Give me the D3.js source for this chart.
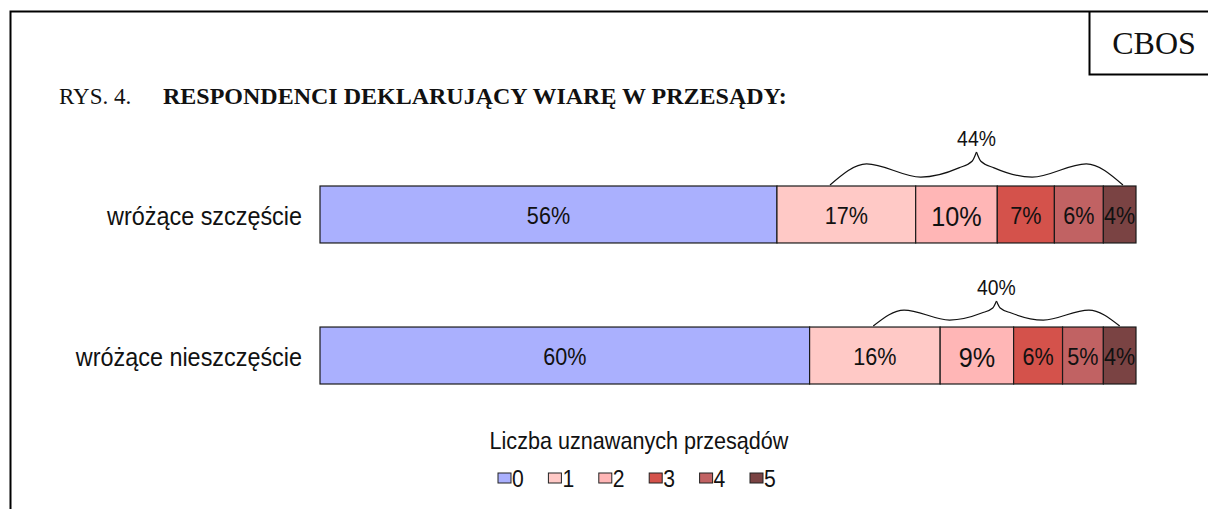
<!DOCTYPE html>
<html>
<head>
<meta charset="utf-8">
<script src="https://cdn.jsdelivr.net/npm/d3@7"></script>
<style>
  body { margin: 0; background: #fff; }
  text { font-family: Arial, "Liberation Sans", sans-serif; fill: #111; }
  .serif { font-family: "Times New Roman", "Liberation Serif", serif; }
</style>
</head>
<body>
<div id="chart"></div>
<script>
// data
var categories = ["wróżące szczęście", "wróżące nieszczęście"];
var groups = ["0", "1", "2", "3", "4", "5"];
var szczescie = [56, 17, 10, 7, 6, 4];
var nieszczescie = [60, 16, 9, 6, 5, 4];
var colors = ["#aab0fe", "#ffc9c6", "#ffb6b6", "#d4524b", "#c16263", "#7a4343"];
// brace annotation: total of the "at least one" groups, and where the brace starts / ends (in %)
var braceTotals = ["44%", "40%"];
var braceFrom = [62.5, 67.8];
var braceTo = [98.4, 98.0];

var series = [szczescie, nieszczescie];
// label size per group (the "2" column is printed larger in the original)
var labelSize = [24, 24, 28, 24, 24, 24];
var braceHeight = [33, 25];
var sx = 0.9; // the original sans text is a bit narrow

function at(px, py) { return "translate(" + px + "," + py + ") scale(" + sx + ",1)"; }

var W = 1208, H = 509;
var svg = d3.select("#chart").append("svg")
  .attr("width", W).attr("height", H);

// frame + CBOS box
svg.append("path")
  .attr("d", "M10.5,509 V11.5 H1208")
  .attr("fill", "none").attr("stroke", "#000").attr("stroke-width", 2);
svg.append("path")
  .attr("d", "M1089.5,11.5 V74.5 H1208")
  .attr("fill", "none").attr("stroke", "#000").attr("stroke-width", 2);
svg.append("text").attr("class", "serif")
  .attr("x", 1154).attr("y", 54).attr("text-anchor", "middle")
  .style("font-size", "32px").text("CBOS");

// title
svg.append("text").attr("class", "serif")
  .attr("x", 59).attr("y", 104).style("font-size", "23px").text("RYS. 4.");
svg.append("text").attr("class", "serif")
  .attr("x", 163).attr("y", 104).style("font-size", "24px").style("font-weight", "bold")
  .text("RESPONDENCI DEKLARUJĄCY WIARĘ W PRZESĄDY:");

// scales
var x = d3.scaleLinear().domain([0, 100]).range([320, 1136]);
var y = d3.scaleBand().domain(categories).range([186, 384]).paddingInner(0.596).paddingOuter(0);

// stacked data
var rows = categories.map(function(c, i) {
  var acc = 0;
  return series[i].map(function(v, j) {
    var seg = {cat: c, group: j, value: v, x0: acc, x1: acc + v, color: colors[j]};
    acc += v;
    return seg;
  });
});

var g = svg.append("g");
rows.forEach(function(row) {
  var rg = g.append("g");
  rg.selectAll("rect")
    .data(row)
    .enter()
    .append("rect")
      .attr("x", function(d) { return x(d.x0); })
      .attr("y", function(d) { return y(d.cat); })
      .attr("width", function(d) { return x(d.x1) - x(d.x0); })
      .attr("height", y.bandwidth())
      .attr("fill", function(d) { return d.color; })
      .attr("stroke", "#1a1a1a")
      .attr("stroke-width", 1.2);
  rg.selectAll("text")
    .data(row)
    .enter()
    .append("text")
      .attr("transform", function(d) {
        return at((x(d.x0) + x(d.x1)) / 2, y(d.cat) + y.bandwidth() / 2);
      })
      .attr("dy", "0.4em")
      .attr("text-anchor", "middle")
      .style("font-size", function(d) { return labelSize[d.group] + "px"; })
      .text(function(d) { return d.value + "%"; });
});

// category labels
svg.selectAll(".cat")
  .data(categories)
  .enter()
  .append("text")
    .attr("class", "cat")
    .attr("transform", function(d) { return at(302, y(d) + y.bandwidth() / 2); })
    .attr("dy", "0.42em")
    .attr("text-anchor", "end")
    .style("font-size", "26px")
    .text(function(d) { return d; });

// curly braces
var braceShape = [[0, 0], [0.25, 0.64], [0.62, 0.24], [0.88, 0.52], [0.97, 0.72], [1, 1]];
var line = d3.line().curve(d3.curveMonotoneX);
categories.forEach(function(c, i) {
  var x0 = x(braceFrom[i]), x1 = x(braceTo[i]);
  var mid = (x0 + x1) / 2, half = (x1 - x0) / 2;
  var yb = y(c) - 1, h = braceHeight[i];
  var left = braceShape.map(function(p) { return [x0 + p[0] * half, yb - p[1] * h]; });
  var right = braceShape.map(function(p) { return [x1 - p[0] * half, yb - p[1] * h]; }).reverse();
  svg.append("path").attr("d", line(left))
    .attr("fill", "none").attr("stroke", "#111").attr("stroke-width", 1.2);
  svg.append("path").attr("d", line(right))
    .attr("fill", "none").attr("stroke", "#111").attr("stroke-width", 1.2);
  svg.append("text")
    .attr("transform", at(mid, yb - h - 6))
    .attr("text-anchor", "middle")
    .style("font-size", "21.5px")
    .text(braceTotals[i]);
});

// legend
svg.append("text")
  .attr("transform", at(639, 449))
  .attr("text-anchor", "middle")
  .style("font-size", "24px")
  .text("Liczba uznawanych przesądów");

var leg = svg.selectAll(".leg")
  .data(groups)
  .enter()
  .append("g")
    .attr("class", "leg")
    .attr("transform", function(d, i) { return "translate(" + (498 + i * 50.4) + ",473)"; });
leg.append("rect")
  .attr("width", 13).attr("height", 10)
  .attr("fill", function(d, i) { return colors[i]; })
  .attr("stroke", "#222").attr("stroke-width", 1);
leg.append("text")
  .attr("transform", at(14, 14))
  .style("font-size", "23.5px")
  .text(function(d) { return d; });
</script>
</body>
</html>
